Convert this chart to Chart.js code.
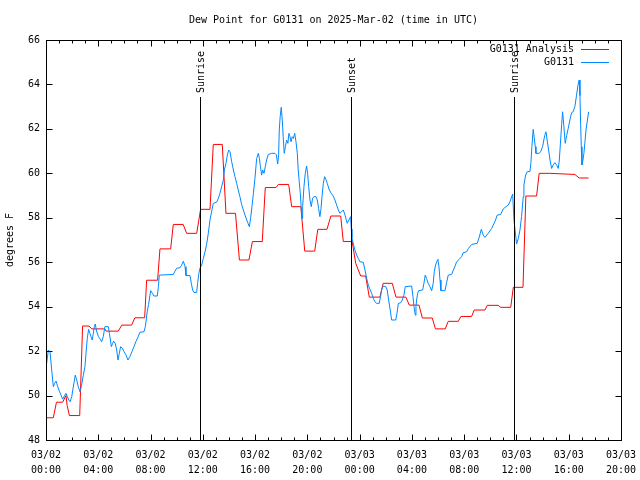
<!DOCTYPE html>
<html lang="en">
<head>
<meta charset="UTF-8">
<title>Dew Point for G0131</title>
<script src="https://cdn.jsdelivr.net/npm/chart.js"></script>
<style>
  body { margin: 0; background: #fff; }
  canvas { display: block; }
</style>
</head>
<body>
<canvas id="dewChart" width="640" height="480"></canvas>
<script>
// time axis is hours since 03/02 00:00 UTC
const chartTitle = 'Dew Point for G0131 on 2025-Mar-02 (time in UTC)';
const seriesNames = ['G0131 Analysis', 'G0131'];

const analysisHours = [
  0.0, 0.56, 0.8, 1.27, 1.53, 1.62, 1.79, 2.58, 2.8, 3.29,
  3.5, 4.5, 4.6, 5.53, 5.8, 6.55, 6.8, 7.55, 7.7, 8.54,
  8.72, 9.54, 9.74, 10.5, 10.76, 11.53, 11.83, 12.55, 12.8, 13.49,
  13.77, 14.5, 14.8, 15.53, 15.79, 16.55, 16.78, 17.6, 17.78, 18.57,
  18.8, 19.5, 19.8, 20.56, 20.8, 21.5, 21.8, 22.55, 22.75, 23.43,
  23.7, 24.08, 24.46, 24.74, 25.55, 25.8, 26.5, 26.78, 27.54, 27.8,
  28.54, 28.8, 29.56, 29.8, 30.55, 30.78, 31.55, 31.75, 32.57, 32.77,
  33.59, 33.77, 34.6, 34.8, 35.56, 35.76, 36.5, 36.72, 37.54, 37.74,
  38.56, 40.47, 40.8, 41.52
];
const analysisValues = [
  49.0, 49.0, 49.7, 49.7, 50.0, 49.55, 49.1, 49.1, 53.13, 53.13,
  53.0, 53.0, 52.9, 52.9, 53.17, 53.17, 53.5, 53.5, 55.19, 55.19,
  56.6, 56.6, 57.7, 57.7, 57.3, 57.3, 58.38, 58.38, 61.3, 61.3,
  58.2, 58.2, 56.1, 56.1, 56.93, 56.93, 59.36, 59.36, 59.5, 59.5,
  58.5, 58.5, 56.5, 56.5, 57.48, 57.48, 58.08, 58.08, 56.93, 56.93,
  55.95, 55.38, 55.38, 54.43, 54.43, 55.05, 55.05, 54.43, 54.43, 54.07,
  54.07, 53.49, 53.49, 53.0, 53.0, 53.34, 53.34, 53.56, 53.56, 53.85,
  53.85, 54.06, 54.06, 53.97, 53.97, 54.87, 54.87, 58.98, 58.98, 60.0,
  60.0, 59.95, 59.79, 59.79
];

const stationHours = [
  0.05, 0.18, 0.31, 0.46, 0.56, 0.66, 0.77, 0.9, 1.02, 1.15,
  1.27, 1.38, 1.53, 1.64, 1.74, 1.84, 1.97, 2.05, 2.15, 2.24,
  2.35, 2.47, 2.6, 2.72, 2.85, 2.98, 3.06, 3.16, 3.26, 3.36,
  3.44, 3.54, 3.62, 3.7, 3.77, 3.87, 4.0, 4.13, 4.26, 4.38,
  4.51, 4.77, 4.85, 4.93, 5.0, 5.1, 5.18, 5.3, 5.41, 5.51,
  5.61, 5.71, 5.84, 5.97, 6.12, 6.27, 6.42, 6.58, 6.73, 6.88,
  7.03, 7.19, 7.5, 7.6, 7.67, 7.75, 7.85, 7.95, 8.01, 8.14,
  8.26, 8.52, 8.6, 8.67, 9.74, 9.87, 10.0, 10.25, 10.38, 10.51,
  10.64, 10.71, 11.02, 11.12, 11.22, 11.32, 11.53, 11.6, 11.7, 11.78,
  11.91, 12.04, 12.17, 12.29, 12.42, 12.55, 12.68, 12.8, 13.06, 13.19,
  13.31, 13.44, 13.57, 13.65, 13.77, 13.88, 13.98, 14.08, 14.21, 14.34,
  14.46, 14.59, 14.71, 14.84, 14.97, 15.1, 15.23, 15.36, 15.46, 15.56,
  15.66, 15.76, 15.87, 15.99, 16.12, 16.25, 16.33, 16.41, 16.5, 16.58,
  16.68, 16.78, 16.88, 17.01, 17.27, 17.52, 17.63, 17.73, 17.8, 17.85,
  17.92, 18.0, 18.08, 18.15, 18.23, 18.32, 18.41, 18.51, 18.59, 18.67,
  18.75, 18.84, 18.93, 19.03, 19.13, 19.23, 19.3, 19.38, 19.46, 19.54,
  19.59, 19.64, 19.74, 19.84, 19.94, 20.02, 20.1, 20.2, 20.3, 20.4,
  20.5, 20.66, 20.76, 20.86, 20.96, 21.04, 21.12, 21.22, 21.32, 21.42,
  21.52, 21.68, 21.83, 21.98, 22.11, 22.24, 22.37, 22.49, 22.62, 22.75,
  22.88, 23.05, 23.18, 23.31, 23.36, 23.41, 23.51, 23.64, 23.77, 23.9,
  24.02, 24.28, 24.41, 24.54, 24.66, 24.79, 24.92, 25.04, 25.17, 25.3,
  25.5, 25.6, 25.68, 25.81, 26.01, 26.11, 26.22, 26.34, 26.45, 26.76,
  26.86, 26.96, 27.13, 27.26, 27.39, 27.49, 27.98, 28.08, 28.16, 28.26,
  28.31, 28.36, 28.44, 28.51, 28.82, 28.92, 29.02, 29.12, 29.25, 29.38,
  29.51, 29.63, 29.71, 29.81, 29.9, 29.99, 30.07, 30.15, 30.22, 30.53,
  30.66, 30.78, 31.04, 31.17, 31.29, 31.42, 31.62, 31.8, 31.93, 32.19,
  32.32, 32.57, 33.0, 33.15, 33.31, 33.46, 33.59, 33.84, 34.1, 34.35,
  34.53, 34.79, 34.99, 35.2, 35.37, 35.5, 35.71, 35.81, 36.01, 36.14,
  36.27, 36.39, 36.52, 36.57, 36.7, 36.83, 37.03, 37.11, 37.18, 37.28,
  37.36, 37.44, 37.49, 37.74, 37.87, 38.0, 38.16, 38.26, 38.36, 38.46,
  38.57, 38.69, 38.81, 38.94, 39.07, 39.2, 39.28, 39.38, 39.46, 39.53,
  39.63, 39.73, 39.84, 39.96, 40.09, 40.22, 40.34, 40.47, 40.6, 40.7,
  40.8, 40.86, 40.91, 40.96, 41.01, 41.09, 41.16, 41.24, 41.32, 41.42,
  41.52
];
const stationValues = [
  51.45, 52.05, 51.95, 51.0, 50.4, 50.55, 50.65, 50.4, 50.2, 50.02,
  49.84, 49.95, 50.1, 49.95, 49.8, 49.72, 49.95, 50.25, 50.6, 50.92,
  50.7, 50.4, 50.17, 50.45, 50.9, 51.3, 51.9, 52.57, 52.98, 52.8,
  52.65, 52.5, 52.8, 53.1, 53.22, 52.9, 52.67, 52.55, 52.42, 52.65,
  53.1, 53.1, 52.8, 52.5, 52.2, 52.35, 52.45, 52.35, 52.05, 51.6,
  51.9, 52.2, 52.13, 51.98, 51.83, 51.6, 51.75, 51.98, 52.2, 52.43,
  52.62, 52.85, 52.87, 53.1, 53.4, 53.8, 54.1, 54.5, 54.72, 54.6,
  54.48, 54.48, 54.9, 55.42, 55.45, 55.6, 55.73, 55.75, 55.87, 56.05,
  55.8, 55.4, 55.4, 55.05, 54.75, 54.64, 54.64, 55.05, 55.5, 55.73,
  55.87, 56.17, 56.47, 56.8, 57.3, 57.9, 58.3, 58.65, 58.7, 58.88,
  59.1, 59.4, 59.7, 60.15, 60.45, 60.83, 61.05, 60.97, 60.52, 60.15,
  59.85, 59.55, 59.25, 58.95, 58.6, 58.35, 58.12, 57.9, 57.75, 57.6,
  58.0, 58.5, 59.1, 59.78, 60.67, 60.9, 60.67, 60.3, 59.92, 60.15,
  60.0, 60.3, 60.6, 60.85, 60.9, 60.9, 60.83, 60.42, 60.83, 61.95,
  62.55, 62.97, 62.4, 61.65, 60.9, 61.2, 61.5, 61.35, 61.8, 61.65,
  61.42, 61.65, 61.57, 61.8, 61.42, 60.9, 60.15, 59.62, 59.1, 58.35,
  57.97, 58.5, 59.4, 60.0, 60.33, 60.0, 59.4, 58.8, 58.5, 58.88,
  58.95, 58.95, 58.8, 58.42, 58.05, 58.4, 58.95, 59.55, 59.85, 59.73,
  59.55, 59.25, 59.1, 58.98, 58.8, 58.57, 58.35, 58.2, 58.27, 58.35,
  58.12, 57.75, 57.9, 58.05, 57.5, 57.1, 56.85, 56.55, 56.32, 56.17,
  56.02, 56.0, 55.65, 55.27, 54.97, 54.78, 54.6, 54.38, 54.22, 54.15,
  54.15, 54.45, 54.75, 54.93, 54.9, 54.75, 54.3, 53.85, 53.4, 53.4,
  53.7, 54.15, 54.17, 54.3, 54.52, 54.9, 54.93, 54.45, 54.0, 53.62,
  54.0, 54.3, 54.6, 54.72, 54.75, 55.05, 55.42, 55.27, 55.05, 54.9,
  54.72, 55.05, 55.57, 55.87, 56.02, 56.13, 55.8, 55.2, 54.72, 54.72,
  55.1, 55.42, 55.45, 55.65, 55.8, 56.02, 56.13, 56.25, 56.43, 56.47,
  56.62, 56.8, 56.85, 57.12, 57.48, 57.22, 57.12, 57.3, 57.52, 57.82,
  58.12, 58.15, 58.4, 58.5, 58.57, 58.72, 59.07, 57.9, 56.82, 57.07,
  57.45, 58.05, 58.95, 59.47, 59.92, 60.08, 60.08, 60.5, 61.2, 61.98,
  61.6, 61.2, 60.9, 60.9, 61.0, 61.2, 61.7, 61.87, 61.45, 61.05,
  60.6, 60.22, 60.38, 60.48, 60.38, 60.22, 60.6, 61.5, 62.2, 62.77,
  62.1, 61.35, 61.7, 62.02, 62.4, 62.73, 62.77, 63.0, 63.52, 63.95,
  64.2, 63.5, 62.25, 61.2, 60.38, 60.6, 60.9, 61.4, 61.95, 62.35,
  62.77
];

const sunLabels = ['Sunrise', 'Sunset', 'Sunrise'];
const sunHours = [11.81, 23.36, 35.81];

const yTicks = [48, 50, 52, 54, 56, 58, 60, 62, 64, 66];
const xTickHours = [0, 4, 8, 12, 16, 20, 24, 28, 32, 36, 40, 44];
const xTickLabels = [
  ['03/02', '00:00'], ['03/02', '04:00'], ['03/02', '08:00'], ['03/02', '12:00'],
  ['03/02', '16:00'], ['03/02', '20:00'], ['03/03', '00:00'], ['03/03', '04:00'],
  ['03/03', '08:00'], ['03/03', '12:00'], ['03/03', '16:00'], ['03/03', '20:00']
];

const FONT = 'DejaVu Sans Mono';
const RED = '#ff0000';
const BLUE = '#0088ff';

function toPoints(xs, ys) {
  return xs.map((x, i) => ({ x: x, y: ys[i] }));
}

// gnuplot-like frame, inward ticks, sun markers, title and key
const decorations = {
  id: 'decorations',
  afterDatasetsDraw(chart) {
    const { ctx, chartArea: a, scales: { x, y } } = chart;
    const L = Math.round(a.left) + 0.5, R = Math.round(a.right) + 0.5;
    const T = Math.round(a.top) + 0.5, B = Math.round(a.bottom) + 0.5;
    ctx.save();
    ctx.strokeStyle = '#000';
    ctx.lineWidth = 1;

    // sunrise / sunset lines
    ctx.beginPath();
    sunHours.forEach(h => {
      const px = Math.round(x.getPixelForValue(h)) + 0.5;
      ctx.moveTo(px, a.top + 57);
      ctx.lineTo(px, B);
    });
    ctx.stroke();

    ctx.fillStyle = '#000';
    ctx.font = '10px "' + FONT + '"';
    sunHours.forEach((h, i) => {
      const px = Math.round(x.getPixelForValue(h));
      ctx.save();
      ctx.translate(px + 1, a.top + 53);
      ctx.rotate(-Math.PI / 2);
      ctx.textAlign = 'left';
      ctx.textBaseline = 'middle';
      ctx.fillText(sunLabels[i], 0, 0);
      ctx.restore();
    });

    // frame
    ctx.strokeRect(L, T, R - L, B - T);

    // ticks
    ctx.beginPath();
    for (let h = x.min; h <= x.max; h++) {
      const px = Math.round(x.getPixelForValue(h)) + 0.5;
      const len = xTickHours.includes(h) ? 6 : 3;
      ctx.moveTo(px, B); ctx.lineTo(px, B - len);
      ctx.moveTo(px, T); ctx.lineTo(px, T + len);
    }
    yTicks.forEach(v => {
      const py = Math.round(y.getPixelForValue(v)) + 0.5;
      ctx.moveTo(L, py); ctx.lineTo(L + 6, py);
      ctx.moveTo(R, py); ctx.lineTo(R - 6, py);
    });
    ctx.stroke();

    // title
    ctx.textAlign = 'center';
    ctx.textBaseline = 'middle';
    ctx.fillText(chartTitle, (a.left + a.right) / 2, 20);

    // key
    const colors = [RED, BLUE];
    seriesNames.forEach((name, i) => {
      const ky = Math.round(a.top + 9 + i * 13) + 0.5;
      ctx.textAlign = 'right';
      ctx.fillStyle = '#000';
      ctx.fillText(name, a.right - 47, ky);
      ctx.strokeStyle = colors[i];
      ctx.beginPath();
      ctx.moveTo(a.right - 40, ky);
      ctx.lineTo(a.right - 12, ky);
      ctx.stroke();
    });
    ctx.restore();
  }
};

new Chart(document.getElementById('dewChart'), {
  type: 'line',
  data: {
    datasets: [
      {
        label: seriesNames[0],
        data: toPoints(analysisHours, analysisValues),
        borderColor: RED,
        borderWidth: 1,
        pointRadius: 0,
        tension: 0,
        fill: false,
        order: 2
      },
      {
        label: seriesNames[1],
        data: toPoints(stationHours, stationValues),
        borderColor: BLUE,
        borderWidth: 1,
        pointRadius: 0,
        tension: 0,
        fill: false,
        order: 1
      }
    ]
  },
  options: {
    responsive: false,
    animation: false,
    layout: { padding: { top: 40, right: 19 } },
    plugins: {
      legend: { display: false },
      tooltip: { enabled: false },
      title: { display: false }
    },
    scales: {
      x: {
        type: 'linear',
        min: 0,
        max: 44,
        afterFit(s) { s.height = 40; s.paddingLeft = 0; s.paddingRight = 0; },
        afterBuildTicks(s) { s.ticks = xTickHours.map(v => ({ value: v })); },
        ticks: {
          autoSkip: false,
          maxRotation: 0,
          padding: 8,
          color: '#000',
          font: { family: FONT, size: 10, lineHeight: 1.5 },
          callback: v => xTickLabels[xTickHours.indexOf(v)]
        },
        grid: { display: false, drawTicks: false },
        border: { display: false }
      },
      y: {
        min: 48,
        max: 66,
        afterFit(s) { s.width = 46; s.paddingTop = 0; s.paddingBottom = 0; },
        afterBuildTicks(s) { s.ticks = yTicks.map(v => ({ value: v })); },
        ticks: {
          padding: 6,
          color: '#000',
          font: { family: FONT, size: 10 }
        },
        grid: { display: false, drawTicks: false },
        border: { display: false },
        title: {
          display: true,
          text: 'degrees F',
          color: '#000',
          font: { family: FONT, size: 10 },
          padding: { top: 4, bottom: 0 }
        }
      }
    }
  },
  plugins: [decorations]
});
</script>
</body>
</html>
